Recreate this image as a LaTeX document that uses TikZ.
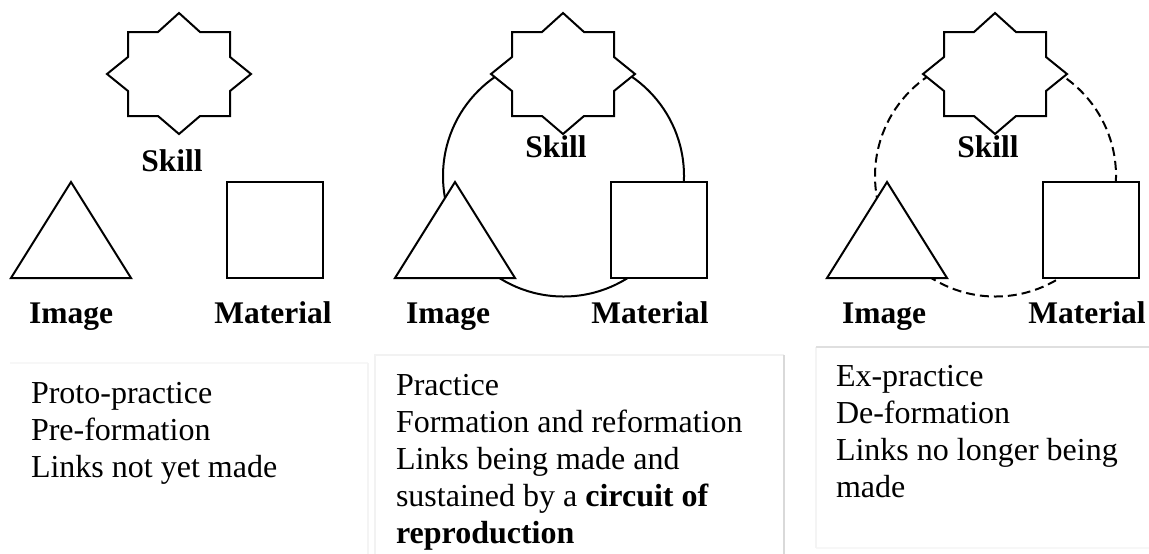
\documentclass[tikz,border=0pt]{standalone}
\usepackage{fontspec}
\setmainfont{Liberation Serif}

\begin{document}
\begin{tikzpicture}[x = 0.5pt, y = -0.5pt, line width = 1pt,
	outline/.style = {draw, fill = white, line join = miter},
	shapelabel/.style = {font = \fontsize{15.75}{18}\selectfont\bfseries, inner sep = 0pt, anchor = base},
	notetext/.style = {font = \fontsize{16}{18.5}\selectfont, inner sep = 0pt, anchor = north west, align = left}]
	
	\useasboundingbox (0, 0) rectangle (1149, 553);
	
	% Circuits of reproduction, drawn first so the shapes cover them
	
	\draw (563.5, 176) circle [radius = 120.5];
	\draw [dash pattern = on 4.5pt off 2.5pt] (995.5, 176) circle [radius = 120.5];
	
	% Skill, image and material in each panel
	
	\foreach \i/\dx/\sy/\ix/\mx in {1/0/171/71/273, 2/384/157/64/266, 3/816/157/68/271}
	{
		\begin{scope}[shift = {(\dx, 0)}]
			\draw [outline] (179, 13) -- (200, 32) -- (230, 32) -- (230, 57) -- (251, 74) -- (230, 91)
				-- (230, 116) -- (200, 116) -- (179, 134) -- (158, 116) -- (128, 116) -- (128, 91)
				-- (107, 74) -- (128, 57) -- (128, 32) -- (158, 32) -- cycle;
			\draw [outline] (71, 182) -- (131, 278) -- (11, 278) -- cycle;
			\draw [outline] (227, 182) rectangle (323, 278);
			
			\node [shapelabel] (skill\i) at (172, \sy) {Skill};
			\node [shapelabel] (image\i) at (\ix, 323) {Image};
			\node [shapelabel] (material\i) at (\mx, 323) {Material};
		\end{scope}
	}
	
	% Text boxes w stages
	
	\draw [gray!6, line width = 0.6pt] (10, 363) -- (368, 363);
	\draw [gray!9, line width = 0.6pt] (368, 363) -- (368, 560);
	\draw [gray!10, line width = 0.6pt] (375, 560) -- (375, 355) -- (784, 355);
	\draw [gray!30, line width = 0.6pt] (784, 355) -- (784, 560);
	\draw [gray!6, line width = 0.6pt] (1155, 548) -- (816, 548);
	\draw [gray!9, line width = 0.6pt] (816, 548) -- (816, 347);
	\draw [gray!25, line width = 0.6pt] (816, 347) -- (1155, 347);
	
	\node [notetext] (proto) at (30, 381) {Proto-practice\\Pre-formation\\Links not yet made};
	\node [notetext] (practice) at (395, 373) {Practice\\Formation and reformation\\Links being made and\\sustained by a \textbf{circuit of}\\\textbf{reproduction}};
	\node [notetext] (expractice) at (835, 364) {Ex-practice\\De-formation\\Links no longer being\\made};
	
\end{tikzpicture}
\end{document}
